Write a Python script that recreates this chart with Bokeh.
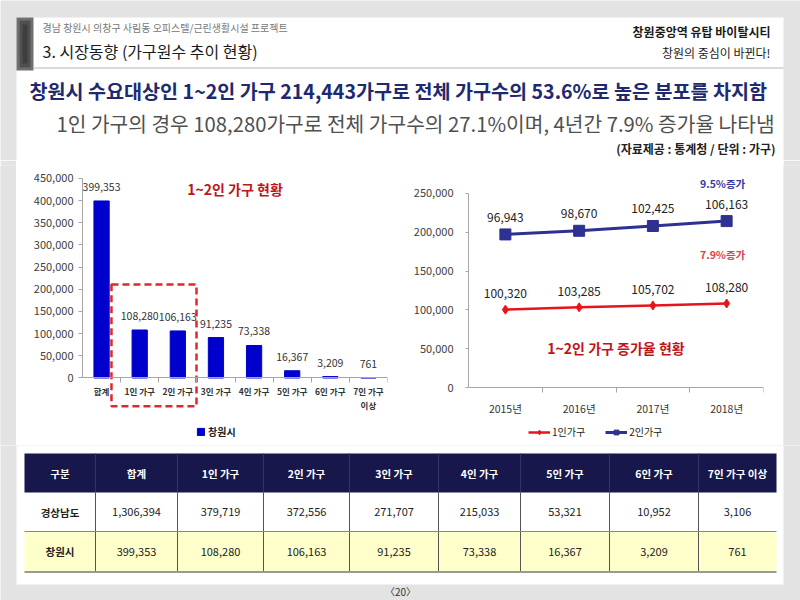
import numpy as np
from bokeh.plotting import figure
from bokeh.layouts import row, column
from bokeh.models import (Range1d, FactorRange, FixedTicker, NumeralTickFormatter,
                          LinearAxis, Legend, LegendItem)
from bokeh.core.properties import value
from bokeh.embed import file_html
from bokeh.resources import INLINE

FONT = "Noto Sans CJK KR"
BG = "#e3e3e3"

# ---------------- data ----------------
bar_categories = ["합계", "1인 가구", "2인 가구", "3인 가구", "4인 가구", "5인 가구", "6인 가구", "7인 가구\n이상"]
bar_values = [399353, 108280, 106163, 91235, 73338, 16367, 3209, 761]
bar_y_ticks = [0, 50000, 100000, 150000, 200000, 250000, 300000, 350000, 400000, 450000]

years = ["2015년", "2016년", "2017년", "2018년"]
one_person = [100320, 103285, 105702, 108280]
two_person = [96943, 98670, 102425, 106163]
line_y_ticks = [0, 50000, 100000, 150000, 200000, 250000]

table_header = ["구분", "합계", "1인 가구", "2인 가구", "3인 가구", "4인 가구", "5인 가구", "6인 가구", "7인 가구 이상"]
gyeongnam = [1306394, 379719, 372556, 271707, 215033, 53321, 10952, 3106]
changwon = [399353, 108280, 106163, 91235, 73338, 16367, 3209, 761]


def canvas(w, h, x0, x1, y0, y1):
    p = figure(width=w, height=h, x_range=Range1d(x0, x1), y_range=Range1d(y1, y0),
               output_backend="svg", toolbar_location=None, x_axis_type=None, y_axis_type=None,
               min_border=0, background_fill_color=BG, border_fill_color=BG, outline_line_color=None)
    return p


def txt(p, x, y, s, size, color, align="left", style="normal", **kw):
    p.text(x=[x], y=[y], text=[s], text_font=value(FONT), text_font_size=value(f"{size}px"),
           text_color=color, text_align=align, text_baseline="middle", text_font_style=style, **kw)


# ---------------- header (page y 0..160) ----------------
head = canvas(800, 160, 0, 800, 0, 160)
head.quad(left=[16], right=[783], top=[17], bottom=[160], fill_color="white", line_color=None)
head.quad(left=[16], right=[33], top=[17], bottom=[70], fill_color="#707070", line_color=None)
head.quad(left=[19], right=[30], top=[20], bottom=[67], fill_color="#505050", line_color=None)
head.quad(left=[22], right=[27], top=[24], bottom=[63], fill_color="#3e3e3e", line_color=None)
head.segment(x0=[33], y0=[67.5], x1=[783], y1=[67.5], line_color="#cfcfcf", line_width=1.5)
txt(head, 42, 27, "경남 창원시 의창구 사림동 오피스텔/근린생활시설 프로젝트", 10, "#777777")
txt(head, 42, 50, "3. 시장동향 (가구원수 추이 현황)", 16, "#1a1a1a")
txt(head, 770, 31, "창원중앙역 유탑 바이탈시티", 12, "#1a1a1a", "right", "bold")
txt(head, 770, 52, "창원의 중심이 바뀐다!", 12, "#1a1a1a", "right")
txt(head, 400, 90, "창원시 수요대상인 1~2인 가구 214,443가구로 전체 가구수의  53.6%로 높은 분포를 차지함",
    19.6, "#1d2a70", "center", "bold")
txt(head, 415, 122, "1인 가구의 경우 108,280가구로 전체 가구수의 27.1%이며, 4년간 7.9% 증가율 나타냄",
    20.3, "#505050", "center")
txt(head, 775, 148, "(자료제공 : 통계청 / 단위 : 가구)", 12, "#222222", "right", "bold")

# ---------------- bar chart (page x 16..405, y 160..445) ----------------
AX = "#a6a6a6"
bar = figure(width=389, height=285,
             x_range=FactorRange(*bar_categories, range_padding=0, factor_padding=0),
             y_range=Range1d(-152256, 479323),
             output_backend="svg", toolbar_location=None,
             min_border_left=66, min_border_right=18, min_border_top=5, min_border_bottom=0,
             outline_line_color=None, background_fill_color="white", border_fill_color="white")
bar.xgrid.visible = False
bar.ygrid.visible = False

ya = bar.yaxis[0]
ya.ticker = FixedTicker(ticks=bar_y_ticks)
ya.formatter = NumeralTickFormatter(format="0,0")
ya.bounds = (0, 450000)
ya.axis_line_color = AX
ya.major_tick_line_color = AX
ya.minor_tick_line_color = None
ya.major_tick_in = 0
ya.major_tick_out = 4
ya.major_label_standoff = 5
ya.major_label_text_font = FONT
ya.major_label_text_font_size = "11px"
ya.major_label_text_color = "#404040"

xa = bar.xaxis[0]
xa.fixed_location = 0
xa.axis_line_color = None
xa.major_tick_line_color = None
xa.major_tick_out = 0
xa.major_label_standoff = 7
xa.major_label_text_font = FONT
xa.major_label_text_font_size = "8.5px"
xa.major_label_text_font_style = "bold"
xa.major_label_text_color = "#333333"

bnd_ticks = list(range(1, len(bar_categories) + 1))
bnd = LinearAxis(ticker=FixedTicker(ticks=bnd_ticks), fixed_location=0,
                 major_label_overrides={t: "" for t in bnd_ticks}, minor_tick_line_color=None,
                 major_tick_in=0, major_tick_out=5, axis_line_color=AX, major_tick_line_color=AX)
bar.add_layout(bnd, "below")

vb = bar.vbar(x=bar_categories, top=bar_values, width=0.4, fill_color="#0000CC", line_color="#0000CC")
bar.text(x=bar_categories, y=bar_values, text=[f"{v:,}" for v in bar_values], y_offset=-14,
         text_font=value(FONT), text_font_size=value("10.5px"), text_color="#333333",
         text_align="center", text_baseline="middle")
bar.quad(left=[0.76], right=[2.99], top=[211000], bottom=[-64000], fill_color=None,
         line_color="#E0282A", line_width=2.5, line_dash="7 4")
txt(bar, 4.0, 425190, "1~2인 가구 현황", 14, "#C0141B", "center", "bold")

leg = Legend(items=[LegendItem(label="창원시", renderers=[vb])], location=(114, 6),
             glyph_width=9, glyph_height=9, label_height=12, label_standoff=3, padding=0, margin=0,
             spacing=0, border_line_color=None, background_fill_alpha=0,
             label_text_font=FONT, label_text_font_size="10px", label_text_font_style="bold",
             label_text_color="#222222")
bar.add_layout(leg)

# ---------------- line chart (page x 405..783, y 160..445) ----------------
two_stack = list(np.add(one_person, two_person))
RED = "#E8141B"
NAVY = "#2E3192"
ln = figure(width=378, height=285,
            x_range=FactorRange(*years, range_padding=0, factor_padding=0),
            y_range=Range1d(-74742, 286082),
            output_backend="svg", toolbar_location=None,
            min_border_left=63, min_border_right=20, min_border_top=5, min_border_bottom=0,
            outline_line_color=None, background_fill_color="white", border_fill_color="white")
ln.xgrid.visible = False
ln.ygrid.visible = False

ly = ln.yaxis[0]
ly.ticker = FixedTicker(ticks=line_y_ticks)
ly.formatter = NumeralTickFormatter(format="0,0")
ly.bounds = (0, 250000)
ly.axis_line_color = AX
ly.major_tick_line_color = AX
ly.minor_tick_line_color = None
ly.major_tick_in = 0
ly.major_tick_out = 3
ly.major_label_standoff = 12
ly.major_label_text_font = FONT
ly.major_label_text_font_size = "11px"
ly.major_label_text_color = "#404040"

lx = ln.xaxis[0]
lx.fixed_location = 0
lx.axis_line_color = None
lx.major_tick_line_color = None
lx.major_tick_out = 0
lx.major_label_standoff = 13
lx.major_label_text_font = FONT
lx.major_label_text_font_size = "10.5px"
lx.major_label_text_color = "#333333"

lbnd_ticks = list(range(1, len(years) + 1))
lbnd = LinearAxis(ticker=FixedTicker(ticks=lbnd_ticks), fixed_location=0,
                  major_label_overrides={t: "" for t in lbnd_ticks}, minor_tick_line_color=None,
                  major_tick_in=0, major_tick_out=5, axis_line_color=AX, major_tick_line_color=AX)
ln.add_layout(lbnd, "below")

r1 = ln.line(years, one_person, line_color=RED, line_width=2.5)
s1 = ln.scatter(years, one_person, marker="diamond", size=9, fill_color=RED, line_color=RED)
r2 = ln.line(years, two_stack, line_color=NAVY, line_width=3)
s2 = ln.scatter(years, two_stack, marker="square", size=11, fill_color=NAVY, line_color=NAVY)
ln.text(x=years, y=one_person, text=[f"{v:,}" for v in one_person], y_offset=-16,
        text_font=value(FONT), text_font_size=value("12px"), text_color="#222222",
        text_align="center", text_baseline="middle")
ln.text(x=years, y=two_stack, text=[f"{v:,}" for v in two_person], y_offset=-17,
        text_font=value(FONT), text_font_size=value("12px"), text_color="#222222",
        text_align="center", text_baseline="middle")
txt(ln, 3.446, 262886, "9.5%증가", 10.5, "#3438A0", "center", "bold")
txt(ln, 3.446, 171392, "7.9%증가", 10.5, "#E04048", "center", "bold")
txt(ln, 2.0, 50258, "1~2인 가구 증가율 현황", 14, "#C0141B", "center", "bold")

lleg = Legend(items=[LegendItem(label="1인가구", renderers=[r1, s1]),
                     LegendItem(label="2인가구", renderers=[r2, s2])],
              location=(60, 6), orientation="horizontal",
              glyph_width=22, glyph_height=12, label_height=12, label_standoff=2, padding=0, margin=0,
              spacing=20, border_line_color=None, background_fill_alpha=0,
              label_text_font=FONT, label_text_font_size="10px", label_text_color="#222222")
ln.add_layout(lleg)


def spacer(w, h):
    s = figure(width=w, height=h, x_range=Range1d(0, 1), y_range=Range1d(0, 1),
               x_axis_type=None, y_axis_type=None, min_border=0,
               background_fill_color=BG, border_fill_color=BG, outline_line_color=None,
               toolbar_location=None, output_backend="svg")
    s.quad(left=[0], right=[1], top=[1], bottom=[0], fill_color=BG, line_color=None)
    return s


# ---------------- table (page y 445..600) ----------------
tab = canvas(800, 155, 0, 800, 445, 600)
tab.quad(left=[16], right=[783], top=[445], bottom=[584], fill_color="white", line_color=None)
edges = [24, 95, 177, 263, 349, 438, 520, 609, 698, 776]
rows_y = [453, 492, 531, 571]
tab.quad(left=[edges[0]], right=[edges[-1]], top=[rows_y[0]], bottom=[rows_y[1]],
         fill_color="#17174B", line_color=None)
tab.quad(left=[edges[0]], right=[edges[-1]], top=[rows_y[2]], bottom=[rows_y[3]],
         fill_color="#FFFFCC", line_color=None)
inner = edges[1:-1]
tab.segment(x0=inner, y0=[rows_y[0]] * len(inner), x1=inner, y1=[rows_y[1]] * len(inner),
            line_color="#34346a", line_width=1)
tab.segment(x0=inner, y0=[rows_y[1]] * len(inner), x1=inner, y1=[rows_y[3]] * len(inner),
            line_color="#555555", line_width=1)
tab.segment(x0=[edges[0]], y0=[rows_y[2]], x1=[edges[-1]], y1=[rows_y[2]], line_color="#888888", line_width=1)
tab.segment(x0=[edges[0]], y0=[rows_y[3] + 0.5], x1=[edges[-1]], y1=[rows_y[3] + 0.5],
            line_color="#999999", line_width=2)

centers = [(a + b) / 2 for a, b in zip(edges[:-1], edges[1:])]
rc = [(a + b) / 2 for a, b in zip(rows_y[:-1], rows_y[1:])]
tab.text(x=centers, y=[rc[0]] * len(centers), text=table_header, text_font=value(FONT),
         text_font_size=value("10.5px"), text_font_style="bold", text_color="white",
         text_align="center", text_baseline="middle")
for ri, (name, vals) in enumerate([("경상남도", gyeongnam), ("창원시", changwon)]):
    y = rc[ri + 1]
    txt(tab, centers[0], y, name, 10.5, "#222222", "center", "bold")
    tab.text(x=centers[1:], y=[y] * len(vals), text=[f"{v:,}" for v in vals], text_font=value(FONT),
             text_font_size=value("11px"), text_color="#222222", text_align="center",
             text_baseline="middle")
txt(tab, 400, 591, "〈20〉", 10, "#333333", "center")

middle = row(spacer(16, 285), bar, ln, spacer(17, 285), spacing=0)
page = column(head, middle, tab, spacing=0)

open("out.html", "w").write(file_html(page, INLINE))
